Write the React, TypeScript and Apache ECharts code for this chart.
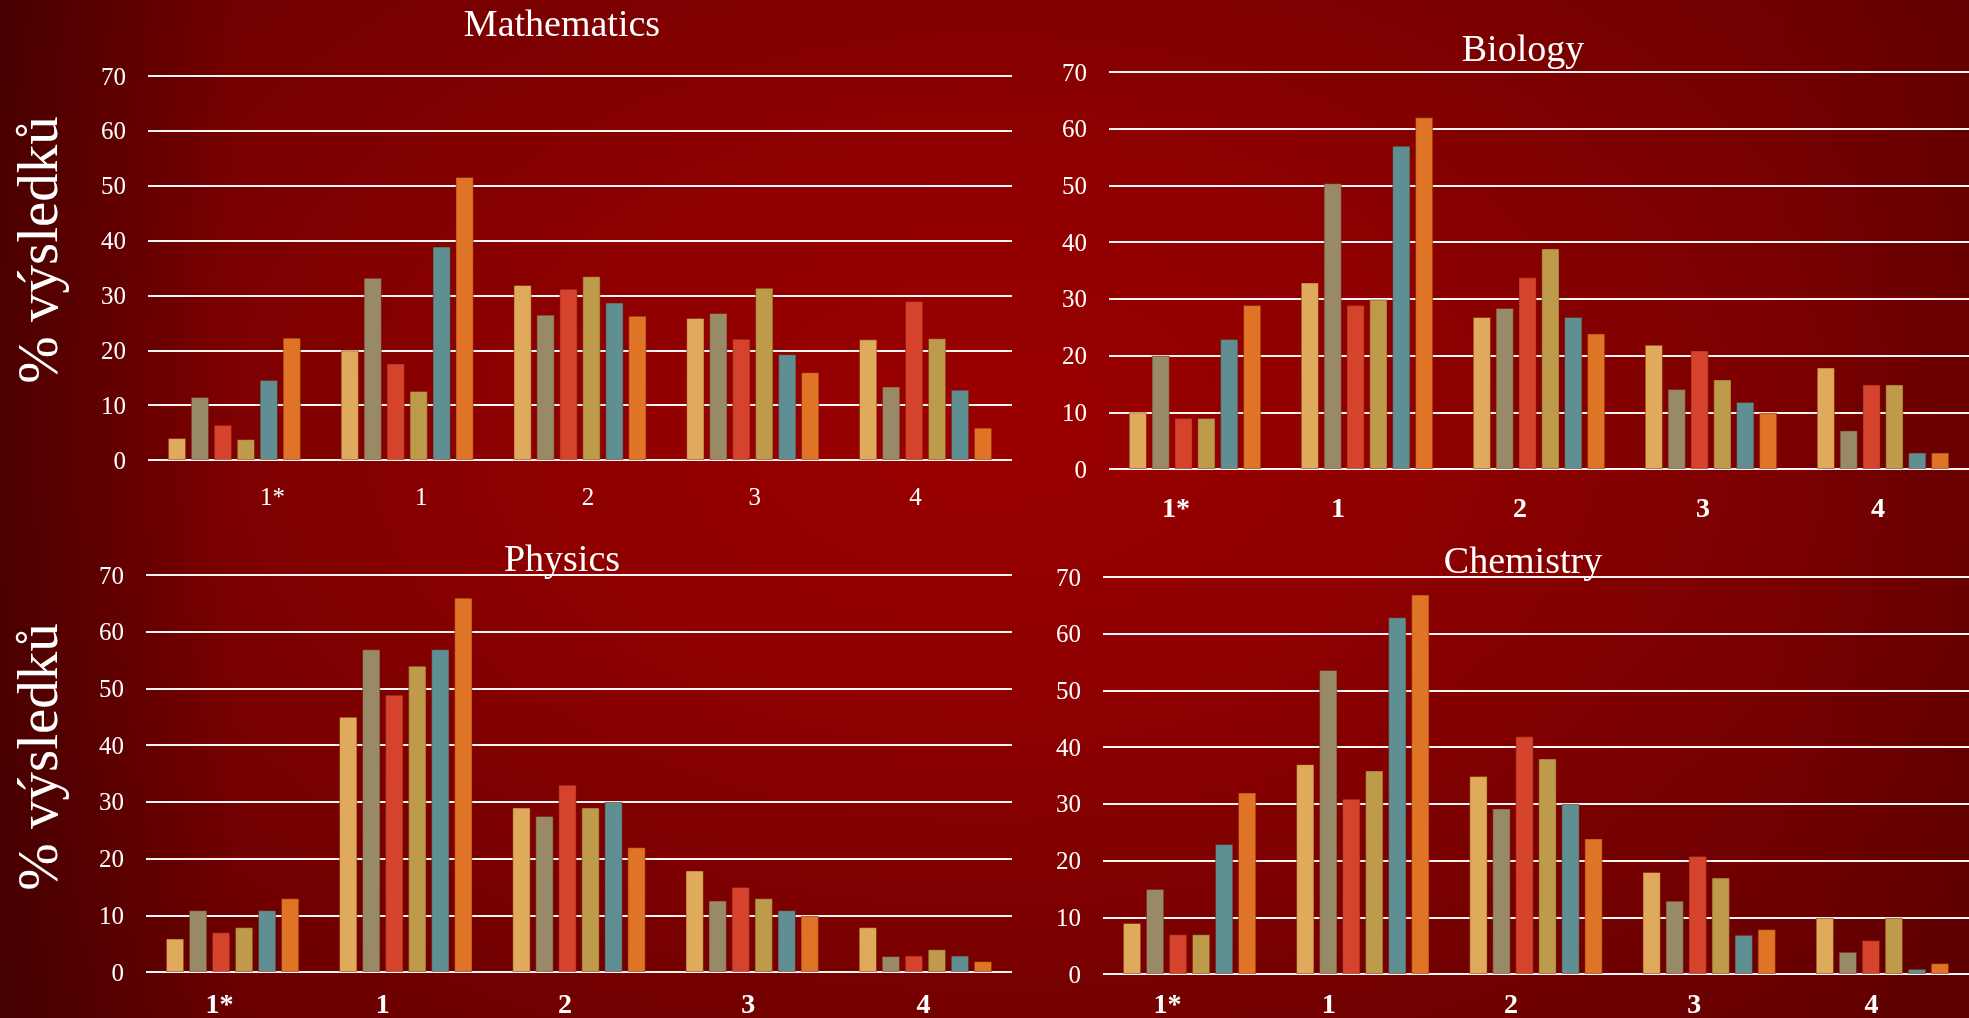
import React, { useEffect, useRef } from "react";
import * as echarts from "echarts";

// ---------- data ----------
const categories = ["1*", "1", "2", "3", "4"];
const seriesNames = ["Řada 1", "Řada 2", "Řada 3", "Řada 4", "Řada 5", "Řada 6"];
const yTicks = [0, 70, 10]; // min, max, interval

// values per category (rows) for the six series (columns)
const mathematics = [
  [4, 11.5, 6.4, 3.8, 14.6, 22.3],
  [20, 33.2, 17.6, 12.6, 38.9, 51.6],
  [31.9, 26.5, 31.2, 33.5, 28.7, 26.3],
  [25.9, 26.8, 22.1, 31.4, 19.3, 16.0],
  [22.0, 13.4, 29.0, 22.2, 12.8, 5.9],
];
const biology = [
  [10, 20, 9, 9, 22.9, 28.9],
  [32.9, 50.4, 28.9, 29.9, 57, 62],
  [26.8, 28.4, 33.8, 38.9, 26.8, 23.9],
  [21.9, 14.1, 20.9, 15.8, 11.8, 9.9],
  [17.9, 6.8, 14.9, 14.9, 2.9, 2.9],
];
const physics = [
  [5.9, 10.9, 7.0, 7.9, 10.9, 13.0],
  [45, 56.9, 48.9, 54, 56.9, 66],
  [29, 27.5, 33, 29, 30, 22],
  [17.9, 12.6, 15.0, 13.0, 10.9, 9.9],
  [7.9, 2.8, 2.9, 4.0, 2.9, 1.9],
];
const chemistry = [
  [9.0, 15.0, 7.0, 7.0, 22.9, 32],
  [37, 53.6, 30.9, 35.9, 62.9, 66.9],
  [34.9, 29.2, 41.9, 38.0, 30, 23.9],
  [18.0, 12.9, 20.8, 17.0, 6.9, 7.9],
  [9.9, 3.9, 5.95, 9.9, 0.9, 1.9],
];
const subjectTitles = ["Mathematics", "Biology", "Physics", "Chemistry"];
const yName = "% výsledků";

// ---------- styles ----------
const colors = ["#DFAA5C", "#988A67", "#D5432C", "#BE9B4A", "#5F8F92", "#DF7326"];
const FONT = '"Liberation Serif", "DejaVu Serif", serif';
const grids = [
  { left: 148, top: 76, width: 864, height: 384 },
  { left: 1109, top: 72, width: 860, height: 397 },
  { left: 146, top: 575, width: 866, height: 397 },
  { left: 1103, top: 577, width: 866, height: 397 },
];
const titlePos = [
  [562, 23],
  [1523, 48],
  [562, 558],
  [1523, 560],
];
const yNamePos = [
  [37, 250],
  [37, 757],
];
const labelShift = [
  [38, 14, 8, 2, -10],
  [-19, -29, -19, -8, -5],
  [-13, -23, -14, -4, -2],
  [-22, -34, -25, -15, -11],
];
const labelMargin = [24, 24, 17, 15];
const labelBold = [false, true, true, true];
const labelSize = [25, 28, 28, 28];

function App() {
  const ref = useRef<HTMLDivElement>(null);
  useEffect(() => {
    if (!ref.current) return;
    const chart = echarts.init(ref.current, undefined, { renderer: "svg" });
    const subjects = [mathematics, biology, physics, chemistry];

    const xAxis = subjects.map((_, gi) => ({
      type: "category" as const,
      gridIndex: gi,
      data: categories,
      axisLine: { show: false },
      axisTick: { show: false },
      axisLabel: {
        margin: labelMargin[gi],
        formatter: (v: string, i: number) => `{s${i}|${v}}`,
        rich: Object.fromEntries(
          labelShift[gi].map((d, i) => [
            `s${i}`,
            {
              color: "#ffffff",
              fontFamily: FONT,
              fontSize: labelSize[gi],
              fontWeight: labelBold[gi] ? "bold" : "normal",
              padding: d >= 0 ? [0, 0, 0, 2 * d] : [0, -2 * d, 0, 0],
            },
          ])
        ),
      },
    }));

    const yAxis = subjects.map((_, gi) => ({
      type: "value" as const,
      gridIndex: gi,
      min: yTicks[0],
      max: yTicks[1],
      interval: yTicks[2],
      axisLine: { show: false },
      axisTick: { show: false },
      axisLabel: { color: "#ffffff", fontFamily: FONT, fontSize: 25, margin: 22 },
      splitLine: { lineStyle: { color: "#fbf4f4", width: 2 } },
    }));

    const series: any[] = [];
    subjects.forEach((rows, gi) => {
      seriesNames.forEach((name, si) => {
        series.push({
          type: "bar",
          name,
          xAxisIndex: gi,
          yAxisIndex: gi,
          data: rows.map((r) => r[si]),
          barGap: "26%",
          barCategoryGap: "23%",
          itemStyle: {
            color: colors[si],
            borderColor: "rgba(110,20,0,0.45)",
            borderWidth: 1,
          },
        });
      });
    });

    const graphic: any[] = [
      ...subjectTitles.map((t, i) => ({
        type: "text",
        x: titlePos[i][0],
        y: titlePos[i][1],
        style: {
          text: t,
          fill: "#ffffff",
          fontFamily: FONT,
          fontSize: 38,
          textAlign: "center",
          textVerticalAlign: "middle",
        },
      })),
      ...yNamePos.map((p) => ({
        type: "text",
        x: p[0],
        y: p[1],
        rotation: Math.PI / 2,
        style: {
          text: yName,
          fill: "#ffffff",
          fontFamily: FONT,
          fontSize: 57,
          textAlign: "center",
          textVerticalAlign: "middle",
        },
      })),
    ];

    chart.setOption({
      animation: false,
      backgroundColor: "transparent",
      grid: grids,
      xAxis,
      yAxis,
      series,
      graphic,
    });
    return () => chart.dispose();
  }, []);

  return (
    <div
      style={{
        position: "fixed",
        left: 0,
        top: 0,
        width: "100vw",
        height: "100vh",
        background:
          "linear-gradient(to right, rgba(30,0,0,0.45) 0%, rgba(30,0,0,0) 12%, rgba(30,0,0,0) 90%, rgba(30,0,0,0.1) 100%), radial-gradient(ellipse 65% 80% at 50% 42%, #9b0000 0%, #8e0000 35%, #760000 70%, #650000 100%)",
      }}
    >
      <div ref={ref} style={{ width: "100%", height: "100%" }} />
    </div>
  );
}

export default App;
